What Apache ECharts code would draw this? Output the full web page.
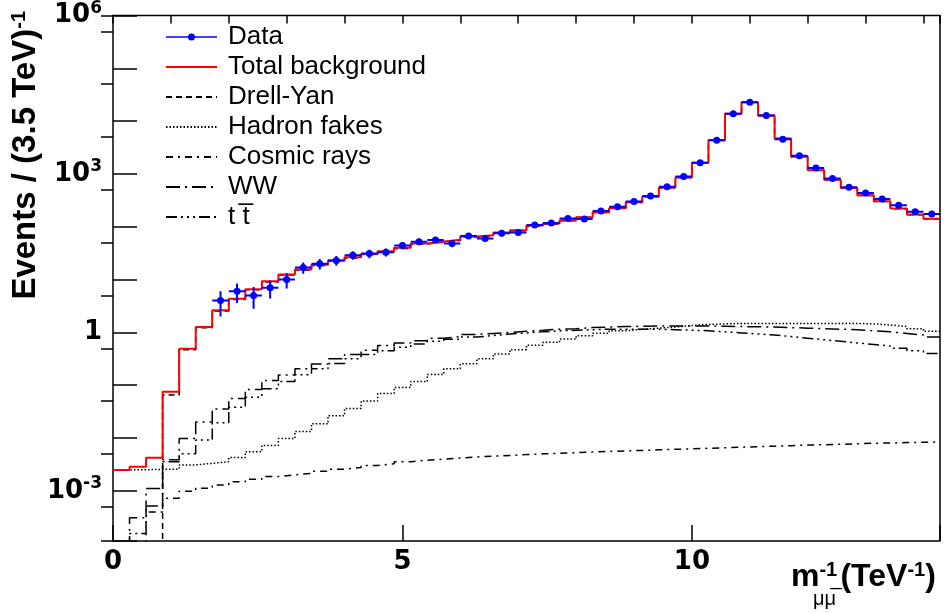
<!DOCTYPE html>
<html>
<head>
<meta charset="utf-8">
<script src="https://cdn.jsdelivr.net/npm/echarts@6/dist/echarts.min.js"></script>
<style>
    * { margin: 0; padding: 0; }
    html, body { width: 947px; height: 613px; background: #fff; }
    #chart { width: 947px; height: 613px; }
</style>
</head>
<body>
<div id="chart"></div>
<script>
    // binning: 50 bins from 0 to 1/0.07 TeV^-1
    const nBins = 50;
    const xMax = 14.2857;
    const yMin = 1.12e-4;
    const yMax = 1e6;

    // events per bin
    const dataCounts = [null, null, null, null, null, null, 4, 6, 5, 7,
        10, 17, 20, 23, 29, 31, 33, 44, 52, 56,
        48, 67, 60, 75, 78, 108, 118, 144, 140, 198,
        239, 300, 384, 574, 896, 1637, 4355, 13770, 22750, 12820,
        4550, 2213, 1300, 820, 557, 436, 337, 256, 192, 174];
    const dataErrors = [null, null, null, null, null, null, 2.0, 2.4, 2.2, 2.6,
        3.2, 4.1, 4.5, 4.8, 5.4, 5.6, 5.7, 6.6, 7.2, 7.5,
        6.9, 8.2, 7.7, 8.7, 8.8, 10.4, 10.9, 12.0, 11.8, 14.1,
        15.5, 17.3, 19.6, 24.0, 29.9, 40.5, 66.0, 117, 151, 113,
        67.5, 47.0, 36.1, 28.6, 23.6, 20.9, 18.4, 16.0, 13.9, 13.2];

    const totalBkg = [0.00248, 0.00286, 0.00422, 0.0748, 0.491, 1.27, 2.61, 4.32, 6.55, 9.25,
        12.5, 15.5, 19.0, 22.9, 26.4, 30.5, 34.2, 39.8, 48.4, 52.7,
        56.6, 65.5, 69.2, 77.6, 85.9, 105, 115, 132, 152, 189,
        225, 291, 372, 546, 857, 1637, 4355, 13770, 22750, 12820,
        4690, 2120, 1178, 776, 542, 394, 304, 222, 171, 142];
    const drellYan = [5e-5, 5e-5, 5e-5, 0.065, 0.47, 1.22, 2.53, 4.19, 6.38, 9.0,
        12.2, 15.1, 18.5, 22.3, 25.7, 29.7, 33.2, 38.6, 47.1, 51.2,
        55.0, 63.8, 67.4, 75.7, 83.9, 103, 113, 130, 150, 187,
        223, 289, 370, 544, 855, 1635, 4353, 13768, 22748, 12818,
        4688, 2118, 1176, 774, 540, 392, 302, 220, 169, 140];
    const hadronFakes = [0.00248, 0.00251, 0.00254, 0.00257, 0.00309, 0.00331, 0.00355, 0.00427, 0.0055, 0.00724,
        0.00977, 0.0133, 0.0185, 0.0265, 0.0363, 0.0501, 0.0697, 0.0902, 0.117, 0.16,
        0.204, 0.254, 0.315, 0.391, 0.471, 0.569, 0.647, 0.746, 0.861, 0.966,
        1.067, 1.148, 1.2, 1.259, 1.349, 1.413, 1.445, 1.479, 1.479, 1.479,
        1.479, 1.479, 1.479, 1.479, 1.479, 1.445, 1.38, 1.288, 1.175, 1.047];
    const cosmicRays = [3e-5, 3e-5, 3.98e-4, 7.24e-4, 9.77e-4, 1.12e-3, 1.29e-3, 1.48e-3, 1.66e-3, 1.86e-3,
        2.0e-3, 2.14e-3, 2.34e-3, 2.57e-3, 2.75e-3, 3.02e-3, 3.24e-3, 3.55e-3, 3.8e-3, 3.98e-3,
        4.17e-3, 4.37e-3, 4.52e-3, 4.68e-3, 4.84e-3, 5.01e-3, 5.13e-3, 5.25e-3, 5.43e-3, 5.56e-3,
        5.69e-3, 5.82e-3, 5.96e-3, 6.1e-3, 6.24e-3, 6.38e-3, 6.53e-3, 6.68e-3, 6.84e-3, 7.0e-3,
        7.16e-3, 7.33e-3, 7.46e-3, 7.59e-3, 7.76e-3, 7.94e-3, 8.04e-3, 8.17e-3, 8.28e-3, 8.39e-3];
    const wwBkg = [5e-5, 3.09e-4, 1.10e-3, 3.89e-3, 9.77e-3, 0.02, 0.0355, 0.0562, 0.0832, 0.123,
        0.155, 0.204, 0.251, 0.316, 0.380, 0.457, 0.562, 0.631, 0.692, 0.776,
        0.832, 0.912, 0.955, 1.0, 1.047, 1.096, 1.148, 1.175, 1.23, 1.259,
        1.288, 1.303, 1.318, 1.318, 1.318, 1.318, 1.303, 1.288, 1.274, 1.259,
        1.23, 1.202, 1.175, 1.148, 1.122, 1.072, 1.023, 0.955, 0.891, 0.813];
    const ttbarBkg = [3e-5, 1.55e-4, 5.13e-4, 3.55e-3, 5.01e-3, 9.12e-3, 0.0195, 0.038, 0.0589, 0.0851,
        0.117, 0.158, 0.204, 0.257, 0.316, 0.380, 0.447, 0.525, 0.603, 0.676,
        0.741, 0.813, 0.871, 0.933, 0.977, 1.023, 1.072, 1.096, 1.122, 1.148,
        1.148, 1.148, 1.148, 1.122, 1.096, 1.072, 1.023, 0.977, 0.933, 0.891,
        0.832, 0.776, 0.724, 0.676, 0.631, 0.589, 0.550, 0.501, 0.447, 0.398];

    // axis labels shown
    const xLabels = [0, 5, 10];
    const yLabelPowers = [6, 3, 0, -3];

    const binW = xMax / nBins;
    const binEdges = Array.from({length: nBins + 1}, (_, i) => i * binW);

    // histogram drawn as steps over bin edges
    function stepData(vals) {
        return binEdges.map((e, i) => [e, vals[Math.min(i, nBins - 1)]]);
    }

    const dataPoints = [];
    dataCounts.forEach((v, i) => {
        if (v != null) dataPoints.push([(i + 0.5) * binW, v, dataErrors[i]]);
    });

    const boldFont = 'DejaVu Sans';
    const textFont = 'Liberation Sans';

    function histSeries(name, vals, color, width, dash, z) {
        return {
            name: name,
            type: 'line',
            step: 'end',
            symbol: 'none',
            data: stepData(vals),
            lineStyle: {color: color, width: width, type: dash, cap: 'butt'},
            itemStyle: {color: color},
            xAxisIndex: 0,
            yAxisIndex: 0,
            clip: true,
            silent: true,
            z: z
        };
    }

    // legend entries for the histograms: line only, no marker
    const lineLegend = name => ({name: name, itemStyle: {opacity: 0}});

    const option = {
        animation: false,
        backgroundColor: '#fff',
        grid: {
            left: 113, right: 7, top: 9, bottom: 72,
            show: true, borderColor: '#000', borderWidth: 1.5
        },
        legend: {
            orient: 'vertical',
            left: 160,
            top: 17,
            itemWidth: 51,
            itemHeight: 8,
            itemGap: 0,
            selectedMode: false,
            textStyle: {fontFamily: textFont, fontSize: 26, color: '#000', lineHeight: 30, padding: [0, 0, 0, 6]},
            data: [
                {name: 'Data', icon: 'path://M0,3.25L51,3.25L51,4.75L0,4.75Z M22,4 A3.5,3.5 0 1 1 29,4 A3.5,3.5 0 1 1 22,4Z'},
                lineLegend('Total background'),
                lineLegend('Drell-Yan'),
                lineLegend('Hadron fakes'),
                lineLegend('Cosmic rays'),
                lineLegend('WW'),
                lineLegend('t t\u0305')
            ]
        },
        xAxis: [
            {
                type: 'value', min: 0, max: xMax, interval: 5,
                axisLine: {show: false},
                splitLine: {show: false},
                axisTick: {inside: true, length: 16, lineStyle: {color: '#000', width: 1.5}},
                axisLabel: {
                    margin: 8,
                    fontFamily: boldFont, fontWeight: 'bold', fontSize: 26, color: '#000',
                    formatter: v => xLabels.some(l => Math.abs(l - v) < 1e-6) ? String(v) : ''
                }
            },
            {
                type: 'value', min: 0, max: xMax, interval: 1,
                axisLine: {show: false},
                splitLine: {show: false},
                axisTick: {inside: true, length: 8, lineStyle: {color: '#000', width: 1.5}},
                axisLabel: {show: false}
            }
        ],
        yAxis: [
            {
                type: 'log', logBase: 10, min: yMin, max: yMax, splitNumber: 10,
                axisLine: {show: false},
                splitLine: {show: false},
                axisTick: {inside: true, length: 24, lineStyle: {color: '#000', width: 1.5}},
                axisLabel: {
                    margin: 11,
                    fontFamily: boldFont, fontWeight: 'bold', fontSize: 26, color: '#000',
                    formatter: function (v) {
                        const l = Math.log10(v);
                        const n = Math.round(l);
                        if (Math.abs(l - n) > 1e-6 || yLabelPowers.indexOf(n) < 0) return '';
                        if (n === 0) return '1';
                        return '10{sup|' + n + '}';
                    },
                    rich: {
                        sup: {fontFamily: boldFont, fontWeight: 'bold', fontSize: 17, verticalAlign: 'bottom', padding: [0, 0, 14, 0]}
                    }
                }
            },
            {
                // short ticks at 5 x 10^n
                type: 'log', logBase: 10, min: yMin * 2, max: yMax * 2, splitNumber: 10,
                axisLine: {show: false},
                splitLine: {show: false},
                axisTick: {inside: true, length: 12, lineStyle: {color: '#000', width: 1.5}},
                axisLabel: {show: false}
            }
        ],
        graphic: [
            {
                type: 'text',
                x: 26, y: 11,
                rotation: Math.PI / 2,
                style: {
                    text: 'Events / (3.5 TeV){sup|-1}',
                    fontFamily: textFont, fontWeight: 'bold', fontSize: 33, fill: '#000',
                    align: 'right', verticalAlign: 'middle',
                    rich: {
                        sup: {fontFamily: textFont, fontWeight: 'bold', fontSize: 20, fill: '#000', verticalAlign: 'bottom', padding: [0, 0, 14, 0]}
                    }
                }
            },
            {
                type: 'text',
                x: 791, y: 594,
                style: {
                    text: 'm{sup|-1}{gap|}(TeV{sup2|-1})',
                    fontFamily: textFont, fontWeight: 'bold', fontSize: 32, fill: '#000',
                    align: 'left', verticalAlign: 'bottom',
                    rich: {
                        sup: {fontFamily: textFont, fontWeight: 'bold', fontSize: 20, fill: '#000', width: 20, align: 'left', verticalAlign: 'bottom', padding: [0, 0, 14, 0]},
                        gap: {width: 1},
                        sup2: {fontFamily: textFont, fontWeight: 'bold', fontSize: 20, fill: '#000', verticalAlign: 'bottom', padding: [0, 0, 14, 0]}
                    }
                }
            },
            {
                type: 'text',
                x: 813, y: 599,
                style: {
                    text: '\u03bc\u03bc\u0305',
                    fontFamily: textFont, fontSize: 20, fill: '#000',
                    align: 'left', verticalAlign: 'middle'
                }
            }
        ],
        series: [
            histSeries('Cosmic rays', cosmicRays, '#000', 1.5, [7, 5, 2, 5], 2),
            histSeries('Hadron fakes', hadronFakes, '#000', 1.5, [1.5, 2], 2),
            histSeries('WW', wwBkg, '#000', 1.5, [14, 5, 2, 5], 2),
            histSeries('t t\u0305', ttbarBkg, '#000', 1.5, [11, 4, 2, 4, 2, 4, 2, 4], 2),
            histSeries('Drell-Yan', drellYan, '#000', 1.5, [6, 4], 3),
            histSeries('Total background', totalBkg, '#ff0000', 2, 'solid', 4),
            {
                name: 'Data',
                type: 'custom',
                xAxisIndex: 0,
                yAxisIndex: 0,
                data: dataPoints,
                encode: {x: 0, y: 1},
                itemStyle: {color: '#0000ff'},
                clip: true,
                silent: true,
                z: 5,
                renderItem: function (params, api) {
                    const x = api.value(0), y = api.value(1), e = api.value(2);
                    const c = api.coord([x, y]);
                    const l = api.coord([x - binW / 2, y]);
                    const r = api.coord([x + binW / 2, y]);
                    const t = api.coord([x, y + e]);
                    const b = api.coord([x, y - e]);
                    const st = {stroke: '#0000ff', lineWidth: 2};
                    return {
                        type: 'group',
                        children: [
                            {type: 'line', shape: {x1: l[0], y1: c[1], x2: r[0], y2: c[1]}, style: st},
                            {type: 'line', shape: {x1: c[0], y1: t[1], x2: c[0], y2: b[1]}, style: st},
                            {type: 'circle', shape: {cx: c[0], cy: c[1], r: 3.5}, style: {fill: '#0000ff'}}
                        ]
                    };
                }
            }
        ]
    };

    const myChart = echarts.init(document.getElementById('chart'));
    myChart.setOption(option);
</script>
</body>
</html>
